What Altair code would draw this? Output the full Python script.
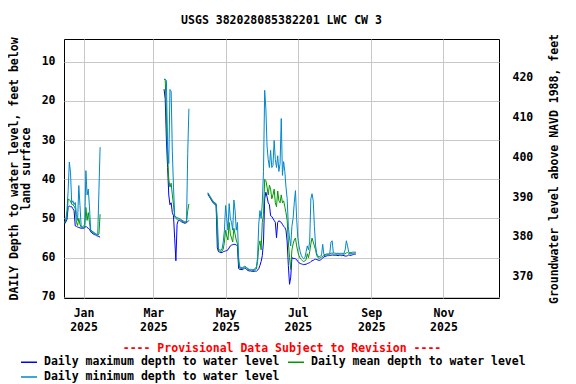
import altair as alt
import pandas as pd

TITLE = "USGS 382028085382201 LWC CW 3"
SERIES = ["Daily maximum depth to water level",
          "Daily mean depth to water level",
          "Daily minimum depth to water level"]
COLORS = ["#0000FF", "#009900", "#0088CC"]
# legend grid is filled column by column: this order gives row 1 = max, mean; row 2 = min
LEGEND_ORDER = [SERIES[0], SERIES[2], SERIES[1]]
LEGEND_COLORS = [COLORS[0], COLORS[2], COLORS[1]]

LEFT_TICKS = [10, 20, 30, 40, 50, 60, 70]
RIGHT_TICKS = [370, 380, 390, 400, 410, 420]
MONTH_TICKS = [1, 3, 5, 7, 9, 11]

# ---- segment 1: starts 2024-12-16 (daily values, feet below land surface)
seg1_start = "2024-12-16"
seg1_min = [51.0, 50.4, 48.0, 42.9, 35.6, 38.2, 46.0, 45.5, 46.5, 45.9, 49.0, 50.5,
            41.6, 46.7, 52.0, 52.1, 52.0, 51.5, 37.8, 44.0, 42.5, 47.0, 52.8, 53.2,
            53.4, 53.6, 53.8, 54.0, 54.1, 42.9, 31.8]
seg1_mean = [51.2, 50.6, 49.5, 45.0, 45.3, 45.5, 46.4, 46.5, 46.8, 47.5, 51.0, 51.8,
             50.0, 51.5, 52.2, 52.3, 52.3, 52.2, 47.2, 50.5, 48.5, 51.0, 53.1, 53.4,
             53.6, 53.8, 54.0, 54.1, 54.3, 54.0, 48.9]
seg1_max = [51.4, 50.9, 50.3, 47.2, 46.8, 47.0, 47.0, 47.5, 48.0, 51.9, 52.0, 52.2,
            52.3, 52.4, 52.5, 52.5, 52.5, 52.4, 52.0, 52.3, 52.5, 52.7, 53.4, 53.7,
            53.9, 54.1, 54.2, 54.4, 54.5, 54.6, 54.8]

# ---- segment 2: starts 2025-03-10
seg2_start = "2025-03-10"
seg2_min = [14.5, 14.5, 14.8, 32.0, 36.0, 17.1, 17.5, 33.0, 42.0, 49.3, 49.6,
            49.8, 49.9, 50.0, 50.2, 50.4, 50.6, 50.8, 50.8, 50.5, 33.4, 22.0]
seg2_mean = [14.5, 14.5, 24.0, 34.0, 40.0, 42.0, 41.0, 44.0, 46.5, 49.6, 50.0,
             50.2, 50.1, 50.2, 50.4, 50.6, 50.8, 51.0, 51.0, 50.9, 48.0, 46.3]
seg2_max = [17.0, 19.5, 30.0, 37.0, 44.0, 46.5, 46.0, 48.5, 49.3, 55.2, 60.8,
            51.5, 50.5, 50.5, 50.7, 50.9, 51.0, 51.2, 51.2, 51.1, 50.8, 50.5]

# ---- segment 3: starts 2025-04-16
seg3_start = "2025-04-16"
seg3_min = [43.4, 43.9, 44.4, 44.9, 45.4, 45.8, 46.0, 46.2, 50.0, 57.8,
            58.0, 58.1, 57.8, 56.0, 53.0, 46.7, 50.0, 53.0, 46.2, 50.0,
            51.0, 53.0, 45.3, 48.0, 53.0, 51.0, 60.0, 62.4, 62.5, 62.6,
            62.4, 62.2, 62.3, 62.6, 62.8, 63.0, 63.0, 63.0, 63.1, 63.0,
            62.8, 62.3, 60.0, 51.4, 48.0, 50.0, 46.0, 38.0, 17.3, 22.0,
            31.5, 35.0, 37.0, 32.6, 37.0, 36.5, 30.1, 35.0, 37.0, 34.0,
            38.0, 36.0, 24.5, 39.0, 35.5, 38.0, 42.0, 45.0, 52.0, 55.0,
            57.0, 52.0, 50.0, 46.0, 42.9, 50.0, 55.0, 57.0, 58.5, 59.5,
            60.0, 60.3, 60.0, 58.5, 57.0, 58.0, 56.0, 45.0, 43.7, 45.5,
            52.0, 57.0, 59.0, 59.6, 59.8, 59.6, 59.5, 56.6, 59.2, 59.2,
            59.1, 59.0, 59.0, 58.9, 56.0, 55.7, 58.8, 58.8, 58.9, 58.9,
            58.9, 58.9, 58.9, 58.9, 58.9, 58.9, 58.0, 55.7, 57.0, 58.6,
            58.7, 58.7, 58.6, 58.6, 58.6, 58.6]
seg3_mean = [43.6, 44.1, 44.6, 45.1, 45.6, 46.0, 46.2, 46.4, 54.0, 58.2,
             58.3, 58.4, 58.3, 57.8, 56.0, 53.0, 54.5, 55.5, 51.0, 54.0,
             55.0, 56.0, 52.5, 54.0, 55.5, 56.5, 61.5, 62.7, 62.7, 62.8,
             62.6, 62.4, 62.5, 62.8, 63.0, 63.1, 63.2, 63.2, 63.3, 63.2,
             63.0, 62.9, 61.0, 57.0, 55.7, 58.0, 51.0, 49.0, 40.0, 40.3,
             42.0, 44.0, 41.5, 42.5, 45.0, 44.0, 42.5, 46.0, 47.0, 43.0,
             45.5, 46.0, 44.0, 46.0, 45.5, 47.0, 48.5, 50.5, 56.0, 60.0,
             63.0, 58.0, 56.5, 55.5, 55.0, 57.0, 58.5, 59.5, 60.2, 60.5,
             60.8, 61.0, 60.8, 60.5, 59.0, 60.0, 58.5, 56.5, 55.0, 56.0,
             57.0, 58.0, 59.5, 60.0, 60.2, 60.0, 59.9, 59.6, 59.5, 59.4,
             59.3, 59.2, 59.2, 59.1, 58.9, 58.8, 59.1, 59.1, 59.1, 59.1,
             59.1, 59.1, 59.1, 59.1, 59.1, 59.1, 59.0, 58.8, 58.7, 58.9,
             59.0, 59.0, 58.9, 58.9, 58.8, 58.8]
seg3_max = [43.8, 44.3, 44.8, 45.3, 45.8, 46.2, 46.4, 46.6, 57.5, 58.5,
            58.6, 58.7, 58.7, 58.5, 58.4, 58.3, 58.2, 58.0, 57.5, 57.0,
            56.8, 56.7, 56.6, 56.6, 56.8, 57.0, 62.8, 63.0, 63.0, 63.1,
            62.9, 62.7, 62.8, 63.1, 63.3, 63.4, 63.4, 63.5, 63.5, 63.5,
            63.4, 63.5, 63.2, 62.8, 62.0, 61.0, 59.5, 56.0, 45.0, 43.3,
            44.5, 46.0, 46.5, 49.3, 49.5, 50.0, 50.5, 51.0, 54.9, 51.0,
            50.6, 50.8, 51.0, 51.5, 52.0, 52.3, 53.0, 56.0, 62.0, 66.8,
            65.0, 60.0, 60.2, 60.2, 60.3, 60.5, 61.0, 61.3, 61.5, 61.6,
            61.7, 61.8, 61.7, 61.7, 61.5, 61.4, 61.3, 61.0, 60.8, 60.7,
            60.5, 60.4, 60.5, 60.6, 60.7, 60.6, 60.4, 60.1, 59.8, 59.7,
            59.6, 59.5, 59.5, 59.4, 59.4, 59.3, 59.4, 59.4, 59.4, 59.4,
            59.5, 59.4, 59.4, 59.5, 59.4, 59.5, 59.6, 59.6, 59.5, 59.3,
            59.4, 59.4, 59.3, 59.2, 59.1, 59.1]

SEGMENTS = [
    (seg1_start, seg1_max, seg1_mean, seg1_min),
    (seg2_start, seg2_max, seg2_mean, seg2_min),
    (seg3_start, seg3_max, seg3_mean, seg3_min),
]

rows = []
for k, (start, mx, mn, mi) in enumerate(SEGMENTS):
    dates = pd.date_range(start, periods=len(mx), freq="D")
    for name, vals in zip(SERIES, (mx, mn, mi)):
        for d, v in zip(dates, vals):
            rows.append({"date": d, "depth": v, "series": name, "seg": k})
df = pd.DataFrame(rows)
right_df = pd.DataFrame({"level": RIGHT_TICKS})

FONT = "DejaVu Sans Mono"
FS = 11.5

x_enc = alt.X(
    "date:T",
    scale=alt.Scale(domain=[alt.DateTime(year=2024, month=12, date=15, hours=12),
                            alt.DateTime(year=2025, month=12, date=17, hours=22)],
                    nice=False),
    axis=alt.Axis(
        values=[alt.DateTime(year=2025, month=m, date=1) for m in MONTH_TICKS],
        labelExpr="[timeFormat(datum.value, '%b'), timeFormat(datum.value, '%Y')]",
        labelLineHeight=14, labelPadding=9, ticks=False, domain=False,
        grid=True, gridColor="#C8C8C8", gridWidth=1,
        title="---- Provisional Data Subject to Revision ----",
        titleColor="#FF0000", titlePadding=10,
    ),
)

y_enc = alt.Y(
    "depth:Q",
    scale=alt.Scale(domain=[4.2, 70.3], reverse=True, nice=False, zero=False),
    axis=alt.Axis(values=LEFT_TICKS, ticks=False, domain=False, grid=True,
                  gridColor="#C8C8C8", gridWidth=1, labelPadding=9,
                  title=["DAILY Depth to water level, feet below", "land surface"],
                  titleLineHeight=11.5, titlePadding=10),
)

color_enc = alt.Color(
    "series:N",
    scale=alt.Scale(domain=LEGEND_ORDER, range=LEGEND_COLORS),
    legend=alt.Legend(orient="none", legendX=-44, legendY=314, columns=2,
                      title=None, symbolType="stroke", symbolSize=256,
                      symbolStrokeWidth=1.5, labelOffset=6, columnPadding=5,
                      rowPadding=0, labelLimit=400),
)

base = alt.Chart(df)
layers = []
for name in SERIES:
    layers.append(
        base.transform_filter(alt.datum.series == name)
        .mark_line(strokeWidth=1)
        .encode(x=x_enc, y=y_enc, color=color_enc, detail="seg:N")
    )
left = alt.layer(*layers)

right = alt.Chart(right_df).mark_point(opacity=0).encode(
    y=alt.Y("level:Q",
            scale=alt.Scale(domain=[364.7, 429.6], nice=False, zero=False),
            axis=alt.Axis(orient="right", values=RIGHT_TICKS, ticks=False,
                          domain=False, grid=False, labelPadding=13,
                          title="Groundwater level above NAVD 1988, feet",
                          titleAngle=270, titlePadding=27))
)

chart = (
    alt.layer(left, right)
    .resolve_scale(y="independent")
    .properties(
        width=435, height=259,
        title=alt.TitleParams(TITLE, anchor="middle", fontSize=FS, font=FONT,
                              fontWeight="bold", color="black", offset=7),
        autosize=alt.AutoSizeParams(type="none"),
        padding={"left": 56, "top": 31, "right": 69, "bottom": 86},
    )
    .configure_view(stroke="black", strokeWidth=1)
    .configure_axis(labelFont=FONT, labelFontSize=FS, labelFontWeight="bold",
                    labelColor="black", titleFont=FONT, titleFontSize=FS,
                    titleFontWeight="bold", titleColor="black")
    .configure_legend(labelFont=FONT, labelFontSize=FS, labelFontWeight="bold",
                      labelColor="black")
)

chart.save("out.html", embed_options={"renderer": "svg", "actions": False})
